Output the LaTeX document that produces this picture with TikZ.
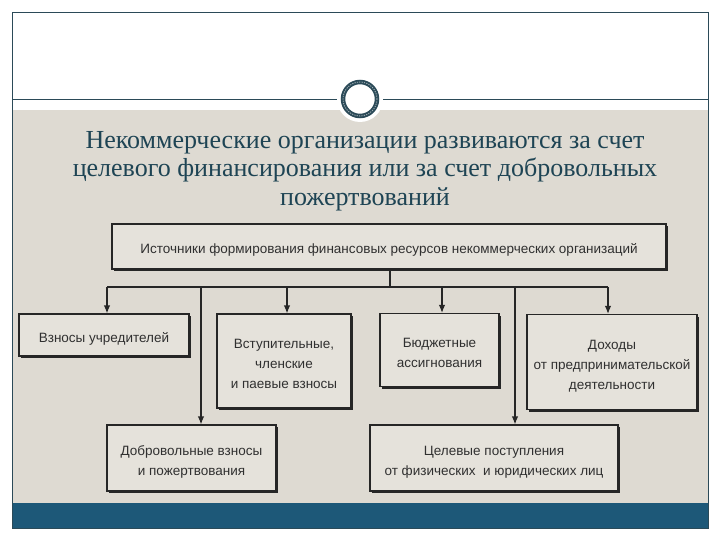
\documentclass[tikz,border=0pt]{standalone}
\usepackage{fontspec}
\setmainfont{Liberation Serif}
\newfontfamily\boxfont{Liberation Sans}
\usetikzlibrary{shadows,arrows.meta}
\definecolor{bgbeige}{HTML}{DEDAD2}
\definecolor{boxfill}{HTML}{E5E2DB}
\definecolor{framecol}{HTML}{2B4A58}
\definecolor{bandblue}{HTML}{1D5878}
\definecolor{titlecol}{HTML}{1E4454}
\definecolor{boxtext}{HTML}{303030}
\newcommand{\boxtxt}[1]{\raisebox{-7pt}[0pt][0pt]{\begin{tabular}{@{}c@{}}#1\end{tabular}}}
\begin{document}
\begin{tikzpicture}[x=1pt,y=-1pt,
  srcbox/.style={draw=black!85, line width=1.2pt, fill=boxfill, inner sep=0pt,
    font=\boxfont\fontsize{13.5}{20}\selectfont, text=boxtext,
    drop shadow={shadow xshift=2pt, shadow yshift=-2pt, fill=black!85, opacity=1}},
  arr/.style={-{Latex[length=8pt,width=6.5pt]}, line width=1.2pt, draw=black!85},
  link/.style={line width=1.2pt, draw=black!85}]
\useasboundingbox (0,0) rectangle (720,540);
\fill[white] (0,0) rectangle (720,540);
% slide frame
\fill[bgbeige] (12,110) rectangle (708,503);
\fill[bandblue] (12,503) rectangle (708,528);
\draw[framecol, line width=0.8pt] (12,12) rectangle (708,528);
\draw[framecol, line width=1pt] (12,100) -- (708,100);
% ornament circle
\fill[white] (360,99) circle[radius=23];
\draw[framecol, line width=4.5pt] (360,99) circle[radius=17];
\draw[framecol!45, line width=0.9pt, dash pattern=on 1.2pt off 1.2pt] (360,99) circle[radius=17];
% title
\node[font=\fontsize{26}{28.5}\selectfont, text=titlecol, align=center] (title) at (365,171)
  {Некоммерческие организации развиваются за счет\\
   целевого финансирования или за счет добровольных\\
   пожертвований};
% boxes
\node[srcbox, minimum width=554, minimum height=45] (top) at (389,246.5)
  {\boxtxt{Источники формирования финансовых ресурсов некоммерческих организаций}};
\node[srcbox, minimum width=170, minimum height=42] (b1) at (104,335)
  {\boxtxt{Взносы учредителей}};
\node[srcbox, minimum width=134, minimum height=94] (b2) at (284,361)
  {\boxtxt{Вступительные,\\ членские\\ и паевые взносы}};
\node[srcbox, minimum width=119, minimum height=73] (b3) at (439.5,350)
  {\boxtxt{Бюджетные\\ ассигнования}};
\node[srcbox, minimum width=170, minimum height=95] (b4) at (612,362)
  {\boxtxt{Доходы\\ от предпринимательской\\ деятельности}};
\node[srcbox, minimum width=169, minimum height=66] (b5) at (191.5,458)
  {\boxtxt{Добровольные взносы\\ и пожертвования}};
\node[srcbox, minimum width=248, minimum height=66] (b6) at (494,458)
  {\boxtxt{Целевые поступления\\ от физических \ и юридических лиц}};
% connectors
\coordinate (j) at (390,287);
\coordinate (jl) at (107,287);
\coordinate (jr) at (608,287);
\draw[link] (top.south -| j) -- (j);
\draw[link] (jl) -- (jr);
\draw[arr] (jl) -- (jl |- b1.north);
\draw[arr] (j -| 287,0) -- ([xshift=3pt]b2.north);
\draw[arr] (j -| 442,0) -- ([xshift=2.5pt]b3.north);
\draw[arr] (jr) -- (jr |- b4.north);
\draw[arr] (j -| 201,0) -- ([xshift=9.5pt]b5.north);
\draw[arr] (j -| 515,0) -- ([xshift=21pt]b6.north);
\end{tikzpicture}
\end{document}
